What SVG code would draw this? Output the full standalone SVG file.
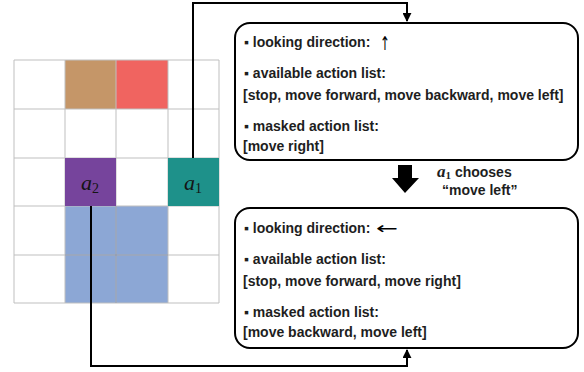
<svg xmlns="http://www.w3.org/2000/svg" width="584" height="372" viewBox="0 0 584 372">
<style>
.grid{fill:none;stroke:#BFBFBF;stroke-width:1}
.gridc{fill:none;stroke:#6E7F99;stroke-opacity:0.45;stroke-width:1}
.box{fill:#FFFFFF;stroke:#000000;stroke-width:2}
.t{font-family:"Liberation Sans",Arial,sans-serif;font-weight:bold;font-size:14px;fill:#1E1E1E}
.ar{font-family:"DejaVu Sans",sans-serif;font-weight:normal;fill:#000000}
.m{font-family:"Liberation Serif","DejaVu Serif",serif;font-style:italic;font-size:22px;fill:#141414}
.sub{font-family:"Liberation Serif","DejaVu Serif",serif;font-style:normal;font-size:14px}
.conn{fill:none;stroke:#000000;stroke-width:2}
</style>
<defs>
<marker id="ah" viewBox="0 0 10 10" refX="9" refY="5" markerWidth="4.5" markerHeight="4.5" orient="auto-start-reverse" markerUnits="strokeWidth">
<path d="M0,0 L10,5 L0,10 z" fill="#000000"/>
</marker>
</defs>
<rect width="584" height="372" fill="#FFFFFF"/>

<g id="grid">
<rect x="65" y="60" width="51" height="49" fill="#C59668"/>
<rect x="116" y="60" width="52" height="49" fill="#F06460"/>
<rect x="65" y="206" width="103" height="97" fill="#8CA7D5"/>
<path class="grid" d="M14,60 H219 M14,109 H219 M14,158 H219 M14,206 H219 M14,255 H219 M14,303 H219 M14,60 V303 M65,60 V303 M116,60 V303 M168,60 V303 M219,60 V303"/>
<path class="gridc" d="M65,255 H168 M116,206 V303"/>
</g>

<g id="agent-a2">
<rect x="65" y="158" width="51" height="48" fill="#76449C"/>
<text class="m" x="81" y="190">a<tspan class="sub" dy="3">2</tspan></text>
</g>

<g id="agent-a1">
<rect x="168" y="158" width="51" height="48" fill="#1E918A"/>
<text class="m" x="184" y="190">a<tspan class="sub" dy="3">1</tspan></text>
</g>

<g id="state-before">
<rect class="box" x="235" y="23" width="343" height="137" rx="15" ry="15"/>
<text class="t" x="244" y="47">▪ looking direction:</text>
<text class="ar" x="380" y="50" font-size="19" textLength="10" lengthAdjust="spacingAndGlyphs">↑</text>
<text class="t" x="244" y="78">▪ available action list:</text>
<text class="t" x="243" y="100">[stop, move forward, move backward, move left]</text>
<text class="t" x="244" y="131">▪ masked action list:</text>
<text class="t" x="243" y="151">[move right]</text>
</g>

<g id="transition">
<path d="M398,165 H412 V178 H419 L405,193 L392,178 H398 Z" fill="#000000"/>
<text class="t" x="437" y="177"><tspan font-family="Liberation Serif, DejaVu Serif, serif" font-style="italic" font-size="17">a</tspan><tspan font-family="Liberation Serif, DejaVu Serif, serif" font-size="11" dy="2">1</tspan><tspan dy="-2"> chooses</tspan></text>
<text class="t" x="442" y="195">“move left”</text>
</g>

<g id="state-after">
<rect class="box" x="235" y="208" width="343" height="140" rx="15" ry="15"/>
<text class="t" x="244" y="233">▪ looking direction:</text>
<text class="ar" x="376" y="234" font-size="17" textLength="22" lengthAdjust="spacingAndGlyphs">←</text>
<text class="t" x="244" y="264">▪ available action list:</text>
<text class="t" x="243" y="286">[stop, move forward, move right]</text>
<text class="t" x="244" y="317">▪ masked action list:</text>
<text class="t" x="243" y="337">[move backward, move left]</text>
</g>

<g id="connectors">
<path class="conn" d="M193,158 V3 H407 V21" marker-end="url(#ah)"/>
<path class="conn" d="M91,206 V366 H407 V350" marker-end="url(#ah)"/>
</g>
</svg>
